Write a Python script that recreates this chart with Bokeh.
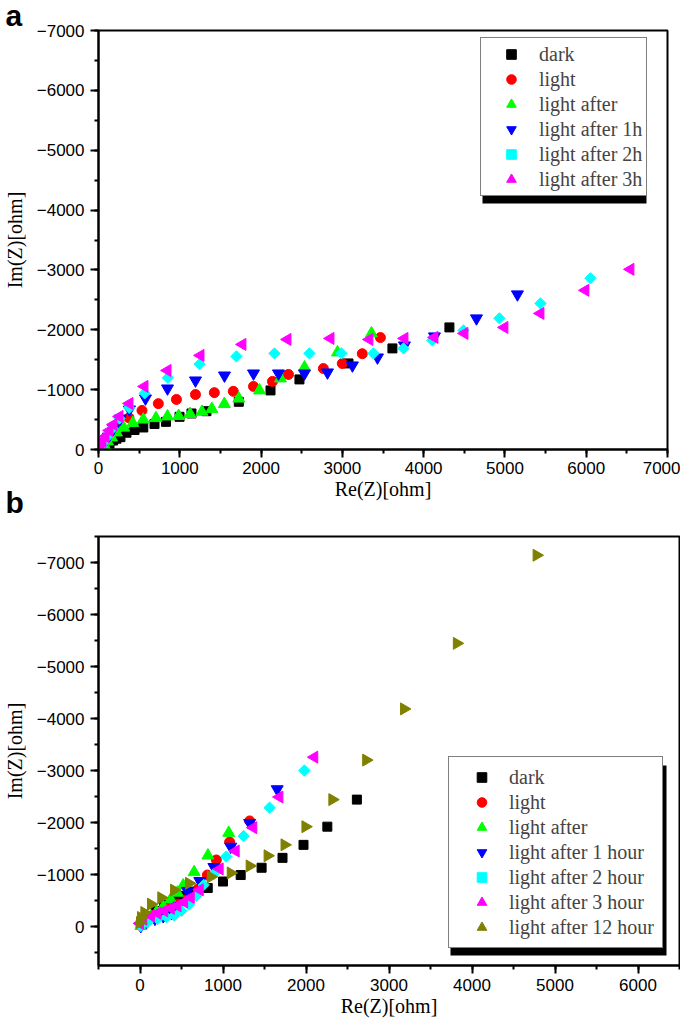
import math
from bokeh.plotting import figure
from bokeh.layouts import column
from bokeh.models import (Range1d, SingleIntervalTicker, CustomJSTickFormatter, Legend, LegendItem,
                          BoxAnnotation, Title)
from bokeh.embed import file_html
from bokeh.resources import INLINE

# ---------------- panel a data ----------------
A_DARK_RE = [49, 86, 135, 180, 221, 270, 344, 443, 551, 689, 830, 997, 1144, 1328, 1726, 2116, 2472, 3075, 3616, 4317]
A_DARK_IM = [-17, -50, -100, -150, -180, -206, -280, -326, -368, -426, -462, -546, -602, -640, -797, -987, -1171, -1438, -1689, -2040]
A_LIGHT_RE = [37, 62, 111, 172, 258, 375, 535, 736, 959, 1193, 1425, 1658, 1907, 2140, 2337, 2766, 2999, 3245, 3468]
A_LIGHT_IM = [-33, -100, -184, -284, -401, -530, -652, -766, -836, -918, -950, -972, -1054, -1137, -1254, -1352, -1436, -1600, -1870]
A_AFTER_RE = [49, 74, 111, 160, 221, 310, 422, 551, 707, 849, 986, 1127, 1273, 1394, 1548, 1726, 1980, 2239, 2534, 2940, 3358]
A_AFTER_IM = [-33, -67, -134, -200, -284, -365, -441, -500, -524, -552, -560, -593, -630, -678, -760, -850, -987, -1187, -1371, -1622, -1940]
A_1H_RE = [37, 74, 123, 184, 270, 381, 578, 849, 1193, 1550, 1907, 2214, 2534, 2817, 3124, 3432, 3764, 4133, 4650, 5154]
A_1H_IM = [-50, -117, -217, -351, -518, -669, -853, -1020, -1154, -1237, -1271, -1271, -1271, -1288, -1405, -1538, -1739, -1890, -2191, -2592]
A_2H_RE = [37, 62, 111, 172, 258, 377, 568, 853, 1244, 1697, 2165, 2595, 2989, 3383, 3752, 4108, 4490, 4932, 5437, 6052]
A_2H_IM = [-50, -117, -217, -351, -518, -696, -938, -1198, -1427, -1555, -1605, -1605, -1605, -1605, -1689, -1823, -1990, -2191, -2441, -2860]
A_3H_RE = [12, 25, 49, 86, 135, 184, 258, 381, 566, 849, 1255, 1771, 2325, 2854, 3333, 3764, 4133, 4502, 4994, 5437, 5990, 6544]
A_3H_IM = [-33, -67, -134, -217, -318, -418, -552, -769, -1054, -1321, -1572, -1756, -1839, -1856, -1839, -1856, -1873, -1940, -2040, -2274, -2659, -3010]
A_LABELS = ["dark", "light", "light after", "light after 1h", "light after 2h", "light after 3h"]

# ---------------- panel b data ----------------
B_DARK_RE = [10, 40, 100, 190, 292, 400, 520, 660, 816, 1000, 1213, 1465, 1717, 1970, 2257, 2613]
B_DARK_IM = [-40, -110, -200, -300, -417, -500, -590, -670, -740, -865, -990, -1130, -1320, -1570, -1920, -2440]
B_LIGHT_RE = [10, 40, 90, 160, 250, 350, 460, 580, 700, 812, 920, 1080, 1321]
B_LIGHT_IM = [-20, -70, -140, -210, -280, -350, -430, -540, -720, -990, -1280, -1625, -2030]
B_AFTER_RE = [10, 30, 70, 130, 200, 280, 370, 450, 520, 652, 818, 1069]
B_AFTER_IM = [-10, -50, -110, -190, -280, -380, -520, -650, -790, -1045, -1365, -1800]
B_1H_RE = [10, 80, 180, 280, 380, 470, 572, 720, 890, 1093, 1321, 1653]
B_1H_IM = [-10, -90, -150, -200, -260, -400, -685, -875, -1145, -1535, -1990, -2640]
B_2H_RE = [10, 90, 212, 320, 412, 500, 590, 680, 768, 890, 1040, 1249, 1561, 1981]
B_2H_IM = [-10, -80, -142, -180, -210, -300, -420, -590, -800, -1015, -1345, -1740, -2285, -3000]
B_3H_RE = [0, 40, 132, 212, 292, 372, 452, 532, 612, 720, 960, 1153, 1365, 1680, 2100]
B_3H_IM = [-60, -140, -205, -255, -301, -350, -397, -470, -557, -705, -1107, -1453, -1900, -2490, -3257]
B_12H_RE = [0, 12, 52, 132, 256, 410, 590, 853, 1093, 1321, 1537, 1741, 1993, 2317, 2725, 3181, 3817, 4778]
B_12H_IM = [-77, -173, -269, -430, -553, -700, -830, -955, -1030, -1165, -1360, -1570, -1920, -2440, -3200, -4185, -5445, -7140]
B_LABELS = ["dark", "light", "light after", "light after 1 hour", "light after 2 hour",
            "light after 3 hour", "light after 12 hour"]

# marker styles: (marker, size, angle, color)
STYLES = [
    ("square", 9, 0.0, "#000000"),
    ("circle", 10, 0.0, "#ff0000"),
    ("triangle", 12, 0.0, "#00ff00"),
    ("inverted_triangle", 12, 0.0, "#0000ff"),
    ("square", 8, math.pi / 4, "#00ffff"),
    ("triangle", 12, math.pi / 2, "#ff00ff"),
    ("triangle", 12, -math.pi / 2, "#808000"),
]

TICK_FONT = "'Liberation Sans', Arial, sans-serif"
SERIF = "'Liberation Serif', 'Times New Roman', serif"
BOLD_SANS = "'Liberation Sans', Arial, sans-serif"

minus_fmt = CustomJSTickFormatter(code="return tick < 0 ? '\u2212' + String(-tick) : String(tick);")


def make_fig(xr, yr, fw, fh, top, bottom, right, tick_standoff, label_standoff):
    p = figure(frame_width=fw, frame_height=fh, x_range=Range1d(*xr), y_range=Range1d(*yr),
               output_backend="svg", toolbar_location=None, title=None,
               min_border_left=93, min_border_right=right, min_border_top=top, min_border_bottom=bottom)
    p.grid.visible = False
    p.outline_line_color = "black"
    p.outline_line_width = 2
    p.background_fill_color = "white"
    p.border_fill_color = "white"
    for ax in (p.xaxis[0], p.yaxis[0]):
        ax.ticker = SingleIntervalTicker(interval=1000, num_minor_ticks=2)
        ax.axis_line_width = 2
        ax.major_tick_line_width = 2
        ax.minor_tick_line_width = 2
        ax.major_tick_out = 8
        ax.major_tick_in = 0
        ax.minor_tick_out = 4
        ax.minor_tick_in = 0
        ax.major_label_text_font = TICK_FONT
        ax.major_label_text_font_size = "17px"
        ax.major_label_text_color = "black"
        ax.axis_label_text_font = SERIF
        ax.axis_label_text_font_size = "20px"
        ax.axis_label_text_font_style = "normal"
        ax.axis_label_text_color = "black"
    p.xaxis.axis_label = "Re(Z)[ohm]"
    p.yaxis.axis_label = "Im(Z)[ohm]"
    p.xaxis.major_label_standoff = tick_standoff
    p.xaxis.axis_label_standoff = label_standoff
    p.yaxis.major_label_standoff = 6
    p.yaxis.axis_label_standoff = 8
    p.yaxis.formatter = minus_fmt
    return p


def add_series(p, series, labels):
    items = []
    for (xs, ys), lab, (mk, sz, ang, col) in zip(series, labels, STYLES):
        r = p.scatter(xs, ys, marker=mk, size=sz, angle=ang, fill_color=col, line_color=col)
        items.append(LegendItem(label=lab, renderers=[r]))
    return items


def panel_title(text, standoff, valign):
    return Title(text=text, align="left", offset=-93, standoff=standoff, vertical_align=valign,
                 text_font=BOLD_SANS, text_font_style="bold", text_font_size="30px", text_color="black")


# ---------------- panel a ----------------
pa = make_fig((0, 7000), (0, -7000), 569, 419, 30, 68, 13, 4, 1)
items_a = add_series(pa, [(A_DARK_RE, A_DARK_IM), (A_LIGHT_RE, A_LIGHT_IM), (A_AFTER_RE, A_AFTER_IM),
                          (A_1H_RE, A_1H_IM), (A_2H_RE, A_2H_IM), (A_3H_RE, A_3H_IM)], A_LABELS)
pa.add_layout(BoxAnnotation(left=482, right=646, top=46, bottom=203,
                            left_units="canvas", right_units="canvas", top_units="canvas", bottom_units="canvas",
                            fill_color="black", fill_alpha=1.0, line_alpha=0))
leg_a = Legend(items=items_a, location=(382, 253), margin=0, padding=4, spacing=1,
               label_height=24, glyph_height=24, glyph_width=52, label_standoff=2,
               label_text_font=SERIF, label_text_font_size="20px",
               border_line_color="black", border_line_width=1, background_fill_alpha=1.0)
pa.add_layout(leg_a)
pa.add_layout(panel_title("a", -7, "top"), "above")
pa.add_layout(panel_title("b", -34, "top"), "below")

# ---------------- panel b ----------------
pb = make_fig((-500, 6500), (750, -7500), 581, 429, 19, 58, 1, 5, 1)
items_b = add_series(pb, [(B_DARK_RE, B_DARK_IM), (B_LIGHT_RE, B_LIGHT_IM), (B_AFTER_RE, B_AFTER_IM),
                          (B_1H_RE, B_1H_IM), (B_2H_RE, B_2H_IM), (B_3H_RE, B_3H_IM),
                          (B_12H_RE, B_12H_IM)], B_LABELS)
pb.add_layout(BoxAnnotation(left=450, right=666, top=248, bottom=438,
                            left_units="canvas", right_units="canvas", top_units="canvas", bottom_units="canvas",
                            fill_color="black", fill_alpha=1.0, line_alpha=0))
leg_b = Legend(items=items_b, location=(350, 17), margin=0, padding=8, spacing=1,
               label_height=24, glyph_height=24, glyph_width=49, label_standoff=3,
               label_text_font=SERIF, label_text_font_size="20px",
               border_line_color="black", border_line_width=1, background_fill_alpha=1.0)
pb.add_layout(leg_b)

layout = column(pa, pb, spacing=0)
open("out.html", "w").write(file_html(layout, INLINE))
